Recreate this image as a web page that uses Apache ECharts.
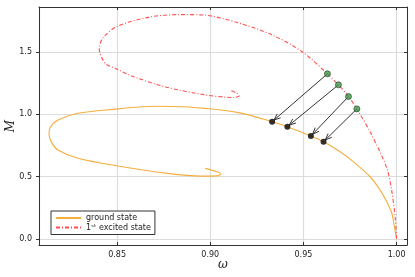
<!DOCTYPE html>
<html>
<head>
<meta charset="utf-8">
<script src="https://cdn.jsdelivr.net/npm/echarts@6/dist/echarts.min.js"></script>
<style>html,body{margin:0;padding:0;background:#fff;}#c{width:415px;height:277px;}</style>
</head>
<body>
<div id="c"></div>
<script>
// ground state curve (omega, M)
const groundOmega = [1.0000,0.9987,0.9975,0.9948,0.9912,0.9858,0.9769,0.9697,0.9608,0.9540,0.9414,0.9332,0.9152,0.8973,0.8850,0.8730,0.8600,0.8505,0.8290,0.8183,0.8140,0.8135,0.8150,0.8183,0.8290,0.8505,0.8770,0.8950,0.9035,0.9057,0.9036,0.8973];
const groundM     = [0.000,0.109,0.203,0.296,0.391,0.498,0.618,0.699,0.779,0.825,0.900,0.940,1.013,1.047,1.060,1.064,1.056,1.043,1.008,0.954,0.890,0.833,0.770,0.713,0.646,0.584,0.525,0.503,0.505,0.519,0.538,0.565];
// 1st excited state curve
const excitedOmega = [1.0000,0.9993,0.9975,0.9948,0.9867,0.9787,0.9742,0.9688,0.9629,0.9491,0.9330,0.9152,0.8973,0.8839,0.8677,0.8500,0.8424,0.8404,0.8435,0.8489,0.8586,0.8765,0.8973,0.9080,0.9125,0.9156,0.9143,0.9113];
const excitedM     = [0.000,0.163,0.377,0.565,0.833,1.043,1.142,1.236,1.325,1.504,1.638,1.733,1.795,1.800,1.781,1.705,1.612,1.531,1.411,1.370,1.303,1.217,1.155,1.137,1.134,1.148,1.169,1.188];
// arrow start points (excited) and end points (ground)
const greenOmega = [0.9629,0.9688,0.9742,0.9787];
const greenM     = [1.3245,1.236,1.142,1.043];
const blackOmega = [0.9332,0.9414,0.9540,0.9608];
const blackM     = [0.940,0.900,0.825,0.779];
const seriesNames = ['ground state','1ˢᵗ excited state'];

const zip = (a,b) => a.map((v,i)=>[v,b[i]]);
const arrows = greenOmega.map((v,i)=>[v,greenM[i],blackOmega[i],blackM[i]]);

const chart = echarts.init(document.getElementById('c'), null, {renderer:'canvas'});
const lblFont = {fontFamily:'DejaVu Sans', fontSize:8, color:'#222'};
const xMin = 0.8081, xMax = 1.0056, yMin = -0.05, yMax = 1.861;
const gridLine = {show:true, lineStyle:{color:'#dcdcdc', width:1.2}};
chart.setOption({
  animation:false,
  backgroundColor:'#fff',
  grid:{left:39, right:8, top:7, bottom:32, containLabel:false, outerBoundsMode:'none'},
  legend:{
    orient:'vertical', left:51, top:211, data:seriesNames,
    itemWidth:25, itemHeight:8, itemGap:1.5, padding:[3,4,3,4],
    borderColor:'#333', borderWidth:1, backgroundColor:'#fff',
    itemStyle:{color:'rgba(0,0,0,0)', borderColor:'rgba(0,0,0,0)', borderWidth:0},
    textStyle:{fontFamily:'DejaVu Sans', fontSize:8, color:'#222'}
  },
  xAxis:[{
    type:'value', min:xMin, max:xMax, splitNumber:4,
    name:'ω', nameLocation:'middle', nameGap:14, nameMoveOverlap:false,
    nameTextStyle:{fontFamily:'DejaVu Serif', fontStyle:'italic', fontSize:12, color:'#222'},
    axisLine:{show:true, onZero:false, lineStyle:{color:'#333', width:1}},
    axisTick:{show:true, inside:true, length:3, lineStyle:{color:'#333'}},
    axisLabel:{...lblFont, margin:6, showMinLabel:false, showMaxLabel:false, formatter:v=>v.toFixed(2)},
    splitLine:gridLine
  },{
    type:'value', position:'top', min:xMin, max:xMax, splitNumber:4,
    axisLine:{show:true, onZero:false, lineStyle:{color:'#333', width:1}},
    axisTick:{show:true, inside:true, length:3, lineStyle:{color:'#333'}},
    axisLabel:{show:false}, splitLine:{show:false}
  }],
  yAxis:[{
    type:'value', min:yMin, max:yMax, splitNumber:4,
    name:'M', nameLocation:'middle', nameGap:22, nameRotate:90, nameMoveOverlap:false,
    nameTextStyle:{fontFamily:'DejaVu Serif', fontStyle:'italic', fontSize:12, color:'#222'},
    axisLine:{show:true, onZero:false, lineStyle:{color:'#333', width:1}},
    axisTick:{show:true, inside:false, length:3, lineStyle:{color:'#333'}},
    axisLabel:{...lblFont, margin:7, showMinLabel:false, showMaxLabel:false, formatter:v=>v.toFixed(1)},
    splitLine:gridLine
  },{
    type:'value', position:'right', min:yMin, max:yMax, splitNumber:4,
    axisLine:{show:true, onZero:false, lineStyle:{color:'#333', width:1}},
    axisTick:{show:true, inside:true, length:3, lineStyle:{color:'#333'}},
    axisLabel:{show:false}, splitLine:{show:false}
  }],
  series:[
    {name:seriesNames[0], type:'line', data:zip(groundOmega,groundM), showSymbol:false, symbol:'none',
     smooth:0.3, lineStyle:{color:'#f4ae3d', width:1.1}, itemStyle:{color:'rgba(0,0,0,0)'}, z:2},
    {name:seriesNames[1], type:'line', data:zip(excitedOmega,excitedM), showSymbol:false, symbol:'none',
     smooth:0.3, lineStyle:{color:'#ff4f4f', width:1.1, type:[4,2,1,2]}, itemStyle:{color:'rgba(0,0,0,0)'}, z:2},
    {type:'custom', data:arrows, encode:{x:[0,2], y:[1,3]}, z:3, silent:true,
     renderItem:(params, api)=>{
       const p0 = api.coord([api.value(0), api.value(1)]);
       const p1r = api.coord([api.value(2), api.value(3)]);
       const dx = p1r[0]-p0[0], dy = p1r[1]-p0[1];
       const L = Math.hypot(dx,dy), ux = dx/L, uy = dy/L;
       const p1 = [p1r[0]-ux*2.5, p1r[1]-uy*2.5];
       const h = 7, a = 0.38;
       const ang = Math.atan2(-uy,-ux);
       const h1 = [p1[0]+h*Math.cos(ang+a), p1[1]+h*Math.sin(ang+a)];
       const h2 = [p1[0]+h*Math.cos(ang-a), p1[1]+h*Math.sin(ang-a)];
       const st = {stroke:'#333', lineWidth:1, fill:null};
       return {type:'group', children:[
         {type:'line', shape:{x1:p0[0],y1:p0[1],x2:p1[0],y2:p1[1]}, style:st},
         {type:'polyline', shape:{points:[h1,p1,h2]}, style:st}
       ]};
     }},
    {type:'scatter', data:zip(greenOmega,greenM), symbolSize:6, z:4,
     itemStyle:{color:'#3f9a4c', borderColor:'#1f3f22', borderWidth:0.8}},
    {type:'scatter', data:zip(blackOmega,blackM), symbolSize:6, z:4,
     itemStyle:{color:'#000'}}
  ]
});
</script>
</body>
</html>
